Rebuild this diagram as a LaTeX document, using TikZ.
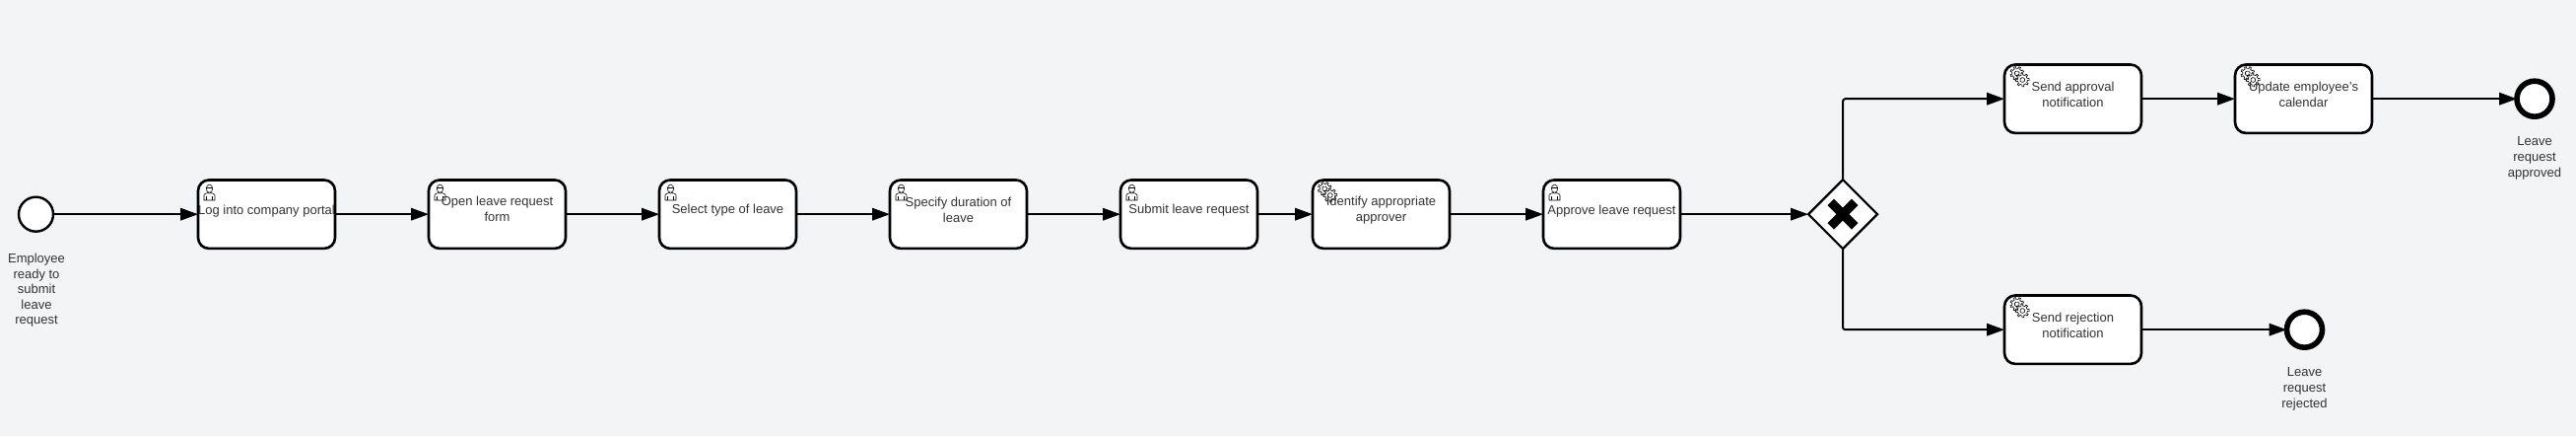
\documentclass[tikz,border=0pt]{standalone}
\usepackage{fontspec}
\setmainfont{Liberation Sans}
\usetikzlibrary{arrows.meta,shapes.geometric,calc}
\definecolor{bgc}{HTML}{F3F4F6}
\definecolor{txt}{HTML}{333333}
\tikzset{
  every node/.style={inner sep=0pt,outer sep=0pt},
  taskbox/.style={draw=black,fill=white,line width=2.6pt,rounded corners=11pt,minimum width=139pt,minimum height=69.4pt},
  tasklabel/.style={font=\fontsize{13}{16}\selectfont,text=txt,align=center,anchor=center},
  eventlabel/.style={font=\fontsize{13}{15.6}\selectfont,text=txt,align=center,anchor=north},
  startev/.style={circle,draw=black,fill=white,line width=2.4pt,minimum size=35pt},
  endev/.style={circle,draw=black,fill=white,line width=5.6pt,minimum size=36pt},
  gate/.style={diamond,aspect=1,draw=black,fill=white,line width=2.2pt,minimum size=70pt},
  flow/.style={draw=black,line width=2pt,-{Triangle[length=18pt,width=12.5pt]},rounded corners=2.5pt},
  iconline/.style={draw=black,line width=.6pt,fill=white},
  person/.pic={
    \path[iconline] (-5.5,8) -- (-5.5,3) .. controls (-5.5,1) and (-2,.8) .. (0,.3) .. controls (2,.8) and (5.5,1) .. (5.5,3) -- (5.5,8) -- cycle;
    \path[iconline] (-3,8) -- (-3,4) (3,8) -- (3,4);
    \path[iconline] (0,-3.8) circle[x radius=3.2,y radius=4.1];
    \path[iconline] (-3.2,-4.4) -- (3.2,-4.4);
    \path[iconline] (-2.4,-.2) .. controls (-1,1.6) and (1,1.6) .. (2.4,-.2);
  },
  gear/.pic={
    \path[iconline] (-10:5) \foreach \a in {0,45,...,315} { -- ({\a-10}:5) -- ({\a-8}:6.9) -- ({\a+8}:6.9) -- ({\a+10}:5) -- ({\a+22}:5) } -- cycle;
    \path[iconline] (0,0) circle[radius=2.4];
  },
  gears/.pic={
    \pic[rotate=20] at (-2.8,-3.7) {gear};
    \pic[rotate=5] at (2.8,3) {gear};
  }
}
\begin{document}
\begin{tikzpicture}[x=1pt,y=-1pt]
\useasboundingbox (0,0) rectangle (2614,442);
\fill[bgc] (0,0) rectangle (2614,442);
\node[startev] (start) at (36.5,217.2) {};
\node[eventlabel] (startl) at (37,257) {Employee\\ready to\\submit\\leave\\request};

\node[taskbox] (t1) at (270.5,217.2) {};
\node[taskbox] (t2) at (504.5,217.2) {};
\node[taskbox] (t3) at (738.5,217.2) {};
\node[taskbox] (t4) at (972.5,217.2) {};
\node[taskbox] (t5) at (1206.5,217.2) {};
\node[taskbox] (t6) at (1401.5,217.2) {};
\node[taskbox] (t7) at (1635.5,217.2) {};
\node[taskbox] (t8) at (2103.5,100.2) {};
\node[taskbox] (t9) at (2337.5,100.2) {};
\node[taskbox] (t10) at (2103.5,334.2) {};

\foreach \x in {212.5,446.5,680.5,914.5,1148.5,1577.5}{\pic at (\x,195) {person};}
\pic at (1347,195) {gears};
\pic at (2049.5,78) {gears};
\pic at (2283.5,78) {gears};
\pic at (2049.5,312) {gears};

\node[tasklabel] (l1) at (270.5,214) {Log into company portal};
\node[tasklabel] (l2) at (504.5,211.5) {Open leave request\\form};
\node[tasklabel] (l3) at (738.5,213.5) {Select type of leave};
\node[tasklabel] (l4) at (972.5,212.5) {Specify duration of\\leave};
\node[tasklabel] (l5) at (1206.5,213.5) {Submit leave request};
\node[tasklabel] (l6) at (1401.5,213.5) {Identify appropriate\\approver};
\node[tasklabel] (l7) at (1635.5,214.5) {Approve leave request};
\node[tasklabel] (l8) at (2103.5,95.5) {Send approval\\notification};
\node[tasklabel] (l9) at (2337.5,95.5) {Update employee's\\calendar};
\node[tasklabel] (l10) at (2103.5,329.5) {Send rejection\\notification};

\node[gate] (gw) at (1870,217.2) {};
\path[fill=black] (1870,217.2) ++(-15.5,-9) -- ++(6.5,-6.5) -- ++(9,9) -- ++(9,-9) -- ++(6.5,6.5) -- ++(-9,9) -- ++(9,9) -- ++(-6.5,6.5) -- ++(-9,-9) -- ++(-9,9) -- ++(-6.5,-6.5) -- ++(9,-9) -- cycle;

\node[endev] (e1) at (2572,100.2) {};
\node[endev] (e2) at (2338.5,334.2) {};
\node[eventlabel] (e1l) at (2572,139) {Leave\\request\\approved};
\node[eventlabel] (e2l) at (2338.5,373) {Leave\\request\\rejected};

\draw[flow] (start) -- (t1);
\draw[flow] (t1) -- (t2);
\draw[flow] (t2) -- (t3);
\draw[flow] (t3) -- (t4);
\draw[flow] (t4) -- (t5);
\draw[flow] (t5) -- (t6);
\draw[flow] (t6) -- (t7);
\draw[flow] (t7) -- (gw);
\draw[flow] (gw.north) |- (t8.west);
\draw[flow] (gw.south) |- (t10.west);
\draw[flow] (t8) -- (t9);
\draw[flow] (t9) -- (e1);
\draw[flow] (t10) -- (e2);
\end{tikzpicture}
\end{document}
